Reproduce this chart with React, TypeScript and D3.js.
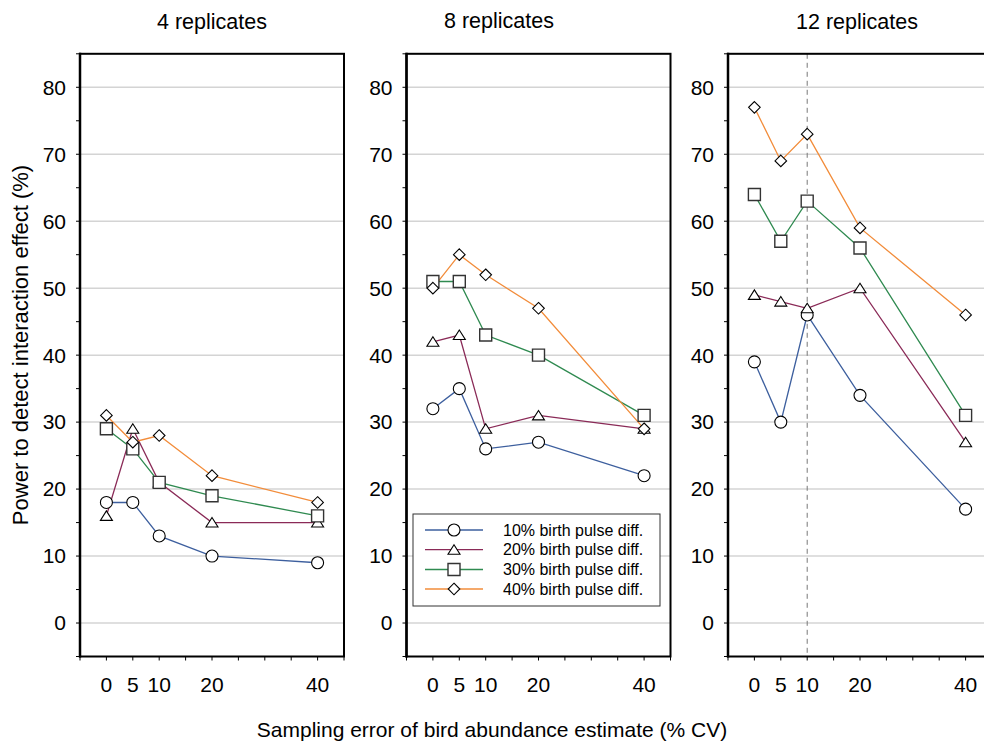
import React from 'react';
import * as d3 from 'd3';

// ---- data ----
const cvLevels = [0, 5, 10, 20, 40];
const xTickLabels = [0, 5, 10, 20, 40];
const yTickLabels = [0, 10, 20, 30, 40, 50, 60, 70, 80];
const panelTitles = ['4 replicates', '8 replicates', '12 replicates'];
const seriesNames = ['10% birth pulse diff.', '20% birth pulse diff.', '30% birth pulse diff.', '40% birth pulse diff.'];

const rep4Pulse10 = [18, 18, 13, 10, 9];
const rep4Pulse20 = [16, 29, 21, 15, 15];
const rep4Pulse30 = [29, 26, 21, 19, 16];
const rep4Pulse40 = [31, 27, 28, 22, 18];

const rep8Pulse10 = [32, 35, 26, 27, 22];
const rep8Pulse20 = [42, 43, 29, 31, 29];
const rep8Pulse30 = [51, 51, 43, 40, 31];
const rep8Pulse40 = [50, 55, 52, 47, 29];

const rep12Pulse10 = [39, 30, 46, 34, 17];
const rep12Pulse20 = [49, 48, 47, 50, 27];
const rep12Pulse30 = [64, 57, 63, 56, 31];
const rep12Pulse40 = [77, 69, 73, 59, 46];

const panelData = [
  [rep4Pulse10, rep4Pulse20, rep4Pulse30, rep4Pulse40],
  [rep8Pulse10, rep8Pulse20, rep8Pulse30, rep8Pulse40],
  [rep12Pulse10, rep12Pulse20, rep12Pulse30, rep12Pulse40],
];

// ---- styles ----
const seriesColors = ['#3d5f9e', '#8a2a57', '#2f8a50', '#f28c3a'];
const markerKinds = ['circle', 'triangle', 'square', 'diamond'];
const FONT = 'Liberation Sans, Arial, Helvetica, sans-serif';

const W = 984;
const H = 744;
const panelLefts = [80, 406.5, 728];
const panelWidth = 264;
const plotTop = 53.8;
const plotBottom = 656.5;
const titleX = [212, 499, 857];
const titleY = [29, 27.5, 29];

function markerPath(kind: string, x: number, y: number): string {
  if (kind === 'circle') {
    const r = 6;
    return `M${x - r},${y}a${r},${r} 0 1,0 ${2 * r},0a${r},${r} 0 1,0 ${-2 * r},0Z`;
  }
  if (kind === 'square') {
    const h = 6;
    return `M${x - h},${y - h}h${2 * h}v${2 * h}h${-2 * h}Z`;
  }
  if (kind === 'triangle') {
    return `M${x},${y - 5}L${x + 6},${y + 4.5}L${x - 6},${y + 4.5}Z`;
  }
  const d = 5.8;
  return `M${x},${y - d}L${x + d},${y}L${x},${y + d}L${x - d},${y}Z`;
}

const yScale = d3.scaleLinear().domain([-5, 85]).range([plotBottom, plotTop]);
const yMinorTicks = d3.range(-5, 86, 5);
const xMinorTicks = d3.range(-5, 46, 5);

function Panel({ idx }: { idx: number }) {
  const left = panelLefts[idx];
  const x = d3.scaleLinear().domain([-5, 45]).range([left, left + panelWidth]);
  const line = d3
    .line<number>()
    .x((_, i) => x(cvLevels[i]))
    .y((v) => yScale(v));
  const series = panelData[idx];
  return (
    <g>
      {yTickLabels.map((t) => (
        <line key={'g' + t} x1={x(-5)} x2={x(45)} y1={yScale(t)} y2={yScale(t)} stroke="#d4d4d4" strokeWidth={1.5} />
      ))}
      {idx === 2 && (
        <line x1={x(10)} x2={x(10)} y1={plotTop} y2={plotBottom} stroke="#777" strokeWidth={1} strokeDasharray="5,4" />
      )}
      {series.map((vals, s) => (
        <path key={'l' + s} d={line(vals) || ''} fill="none" stroke={seriesColors[s]} strokeWidth={1.3} />
      ))}
      {series.map((vals, s) =>
        vals.map((v, i) => (
          <path
            key={'m' + s + '-' + i}
            d={markerPath(markerKinds[s], x(cvLevels[i]), yScale(v))}
            fill="#fff"
            stroke={s === 2 ? '#333' : '#000'}
            strokeWidth={s === 2 ? 1.4 : 1.1}
          />
        ))
      )}
      {/* frame */}
      <rect x={x(-5)} y={plotTop} width={panelWidth} height={plotBottom - plotTop} fill="none" stroke="#000" strokeWidth={2} />
      <line x1={x(-5)} x2={x(-5)} y1={plotTop - 1} y2={plotBottom + 1} stroke="#000" strokeWidth={2.5} />
      {/* y ticks */}
      {yMinorTicks.map((t) => (
        <line key={'yt' + t} x1={x(-5) - 4} x2={x(-5)} y1={yScale(t)} y2={yScale(t)} stroke="#000" strokeWidth={1} />
      ))}
      {yTickLabels.map((t) => (
        <text key={'yl' + t} x={x(-5) - 14} y={yScale(t)} dy="0.35em" textAnchor="end" fontSize={21} fontFamily={FONT} fill="#000">
          {t}
        </text>
      ))}
      {/* x ticks */}
      {xMinorTicks.map((t) => (
        <line key={'xt' + t} x1={x(t)} x2={x(t)} y1={plotBottom} y2={plotBottom + 4} stroke="#000" strokeWidth={1} />
      ))}
      {xTickLabels.map((t) => (
        <text key={'xl' + t} x={x(t)} y={692} textAnchor="middle" fontSize={21} fontFamily={FONT} fill="#000">
          {t}
        </text>
      ))}
      <text x={titleX[idx]} y={titleY[idx]} textAnchor="middle" fontSize={21.5} fontFamily={FONT} fill="#000">
        {panelTitles[idx]}
      </text>
    </g>
  );
}

function Legend() {
  const bx = 413;
  const by = 514;
  const rowY = [530, 549.7, 569.5, 589];
  return (
    <g>
      <rect x={bx} y={by} width={247} height={92} fill="#fff" stroke="#333" strokeWidth={1} />
      {seriesNames.map((name, s) => (
        <g key={name}>
          <line x1={425} x2={483} y1={rowY[s]} y2={rowY[s]} stroke={seriesColors[s]} strokeWidth={1.3} />
          <path d={markerPath(markerKinds[s], 454, rowY[s])} fill="#fff" stroke={s === 2 ? '#333' : '#000'} strokeWidth={s === 2 ? 1.4 : 1.1} />
          <text x={503} y={rowY[s]} dy="0.35em" fontSize={16} fontFamily={FONT} fill="#000">
            {name}
          </text>
        </g>
      ))}
    </g>
  );
}

export default function App() {
  return (
    <div style={{ position: 'absolute', left: 0, top: 0 }}>
      <svg width={W} height={H} viewBox={`0 0 ${W} ${H}`} style={{ display: 'block', background: '#fff' }}>
        <rect x={0} y={0} width={W} height={H} fill="#fff" />
        {panelTitles.map((_, i) => (
          <Panel key={i} idx={i} />
        ))}
        <Legend />
        <text
          transform="translate(28,345) rotate(-90)"
          textAnchor="middle"
          fontSize={22}
          fontFamily={FONT}
          fill="#000"
        >
          Power to detect interaction effect (%)
        </text>
        <text x={492} y={737} textAnchor="middle" fontSize={21} fontFamily={FONT} fill="#000">
          Sampling error of bird abundance estimate (% CV)
        </text>
      </svg>
    </div>
  );
}
